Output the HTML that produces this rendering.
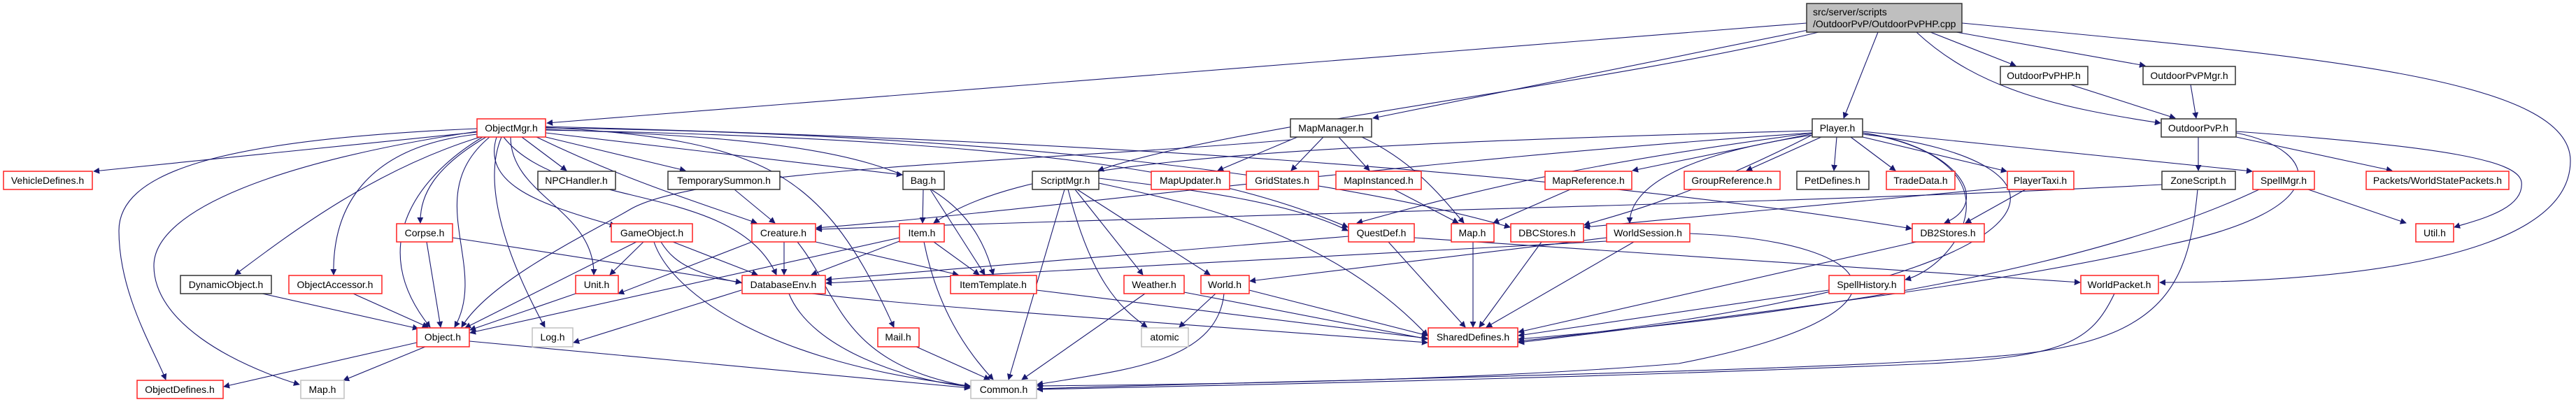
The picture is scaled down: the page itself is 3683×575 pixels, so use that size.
<!DOCTYPE html>
<html><head><meta charset="utf-8"><style>
html,body{margin:0;padding:0;background:#fff;}
svg{display:block;}
text{font-family:"Liberation Sans",sans-serif;font-size:14px;fill:#000;}
.r{fill:#fff;stroke:#ff2020;stroke-width:1.5;}
.b{fill:#fff;stroke:#333;stroke-width:1.5;}
.g{fill:#fff;stroke:#c0c0c0;stroke-width:1.5;}
.e{fill:none;stroke:#191970;stroke-width:1.1;marker-end:url(#a);}
</style></head><body>
<svg width="3683" height="575" viewBox="0 0 3683 575" xmlns="http://www.w3.org/2000/svg">
<defs><marker id="a" viewBox="0 0 10 10" refX="9" refY="5" markerWidth="9" markerHeight="9" markerUnits="userSpaceOnUse" orient="auto"><path d="M0,0 L10,5 L0,10 z" fill="#191970"/></marker></defs>
<g>
<!-- top node edges -->
<path class="e" d="M2583,33 L782,176"/>
<path class="e" d="M2590,42 L1963,169"/>
<path class="e" d="M2600,46 C2300,120 1750,180 1570,244"/>
<path class="e" d="M2685,46 L2636,169"/>
<path class="e" d="M2760,46 L2882,94"/>
<path class="e" d="M2797,46 L3067,94"/>
<path class="e" d="M2740,46 C2830,130 2950,155 3089,176"/>
<path class="e" d="M2805,33 C3300,80 3675,110 3675,230 C3675,380 3300,404 3088,404"/>
<!-- ObjectMgr -->
<path class="e" d="M682,189 L134,245"/>
<path class="e" d="M682,184 C300,200 170,250 170,330 C170,420 220,500 237,543"/>
<path class="e" d="M682,188 C400,230 220,300 220,380 C220,460 330,520 428,550"/>
<path class="e" d="M690,195 C540,240 420,330 336,393"/>
<path class="e" d="M682,192 C520,210 475,300 477,393"/>
<path class="e" d="M690,196 C600,250 520,350 615,468"/>
<path class="e" d="M695,196 C620,240 600,280 601,319"/>
<path class="e" d="M717,196 C690,260 720,360 779,468"/>
<path class="e" d="M746,196 L810,244"/>
<path class="e" d="M710,196 C690,260 760,290 880,323"/>
<path class="e" d="M730,196 C730,280 850,300 849,393"/>
<path class="e" d="M700,196 C600,280 700,380 650,468"/>
<path class="e" d="M780,196 L980,244"/>
<path class="e" d="M767,196 C900,260 1000,290 1082,319"/>
<path class="e" d="M780,190 L1290,250"/>
<path class="e" d="M780,185 C1200,200 1380,230 1420,393"/>
<path class="e" d="M780,182 C1100,200 1180,250 1278,468"/>
<path class="e" d="M720,196 C800,300 1050,260 1110,393"/>
<path class="e" d="M780,186 C1500,200 1750,250 1927,325"/>
<path class="e" d="M780,183 C1400,190 1900,250 2159,325"/>
<path class="e" d="M780,181 C1500,200 2200,240 2733,327"/>
<!-- others -->
<path class="e" d="M610,346 L630,468"/>
<path class="e" d="M647,340 L1060,404"/>
<path class="e" d="M375,420 L598,470"/>
<path class="e" d="M505,420 L612,468"/>
<path class="e" d="M596,490 L320,553"/>
<path class="e" d="M608,496 L491,544"/>
<path class="e" d="M671,488 L1387,555"/>
<path class="e" d="M823,420 L672,472"/>
<path class="e" d="M920,346 L872,393"/>
<path class="e" d="M910,346 L665,469"/>
<path class="e" d="M962,346 L1083,393"/>
<path class="e" d="M935,346 C960,420 1100,520 1387,552"/>
<path class="e" d="M945,346 C990,420 1100,420 2041,490"/>
<path class="e" d="M1060,415 L820,490"/>
<path class="e" d="M1128,420 C1160,500 1300,545 1387,553"/>
<path class="e" d="M1121,346 L1121,393"/>
<path class="e" d="M1075,346 L884,420"/>
<path class="e" d="M1166,346 L1370,393"/>
<path class="e" d="M1140,346 C1200,420 1200,520 1387,553"/>
<path class="e" d="M1050,271 L1108,319"/>
<path class="e" d="M1320,271 L1319,319"/>
<path class="e" d="M1330,271 L1408,393"/>
<path class="e" d="M1286,345 L1160,393"/>
<path class="e" d="M1335,346 L1400,393"/>
<path class="e" d="M1321,346 C1340,440 1380,500 1420,543"/>
<path class="e" d="M1286,340 L672,476"/>
<path class="e" d="M1522,271 L1442,543"/>
<path class="e" d="M1527,271 C1560,400 1600,440 1640,468"/>
<path class="e" d="M1537,271 L1634,393"/>
<path class="e" d="M1540,271 L1730,393"/>
<path class="e" d="M1571,262 C1700,290 1900,330 2041,480"/>
<path class="e" d="M1571,255 C1700,270 1850,290 1927,330"/>
<path class="e" d="M1637,420 L1461,543"/>
<path class="e" d="M1693,418 L2041,485"/>
<path class="e" d="M1738,420 L1686,468"/>
<path class="e" d="M1750,420 C1740,520 1600,530 1483,550"/>
<path class="e" d="M1786,415 L2041,480"/>
<path class="e" d="M1482,415 L2041,484"/>
<path class="e" d="M1310,496 L1415,543"/>
<path class="e" d="M1855,196 L1741,244"/>
<path class="e" d="M1892,196 L1846,244"/>
<path class="e" d="M1914,196 L1958,244"/>
<path class="e" d="M1947,196 C2020,230 2060,280 2093,319"/>
<path class="e" d="M1845,200 C1500,230 1000,240 900,300 C850,330 700,400 660,468"/>
<path class="e" d="M1993,271 L2085,319"/>
<path class="e" d="M2245,271 L2135,319"/>
<path class="e" d="M2106,346 L2106,468"/>
<path class="e" d="M1985,346 L2095,468"/>
<path class="e" d="M1928,338 L1181,400"/>
<path class="e" d="M2022,340 L2974,404"/>
<path class="e" d="M2204,346 L2115,468"/>
<path class="e" d="M2336,346 L2125,468"/>
<path class="e" d="M2297,345 L1181,405"/>
<path class="e" d="M2416,334 C2700,345 2760,450 2400,520 C2100,545 1700,550 1483,552"/>
<path class="e" d="M2297,340 L1787,402"/>
<path class="e" d="M2740,346 L2171,475"/>
<path class="e" d="M2615,415 L2171,480"/>
<path class="e" d="M2597,190 L2334,244"/>
<path class="e" d="M2604,196 L2497,244"/>
<path class="e" d="M2626,196 L2622,244"/>
<path class="e" d="M2646,196 L2710,244"/>
<path class="e" d="M2663,196 L2869,245"/>
<path class="e" d="M2663,188 L3220,245"/>
<path class="e" d="M2591,190 C2300,230 2150,260 1940,319"/>
<path class="e" d="M2600,192 C2400,220 2330,270 2330,319"/>
<path class="e" d="M2591,193 C2400,290 2300,310 2265,322"/>
<path class="e" d="M2663,190 C2800,210 2850,290 2780,319"/>
<path class="e" d="M2591,190 C2000,230 1500,300 1167,326"/>
<path class="e" d="M2591,187 C1700,210 1450,240 1335,319"/>
<path class="e" d="M2663,190 C2900,230 2800,380 2724,400"/>
<path class="e" d="M2663,192 C3000,230 3000,400 2171,488"/>
<path class="e" d="M2896,271 L2810,319"/>
<path class="e" d="M2870,268 L2265,325"/>
<path class="e" d="M3091,264 C2600,290 2000,300 1167,328"/>
<path class="e" d="M3142,271 C3130,400 3100,480 2900,505 C2700,530 1800,545 1483,556"/>
<path class="e" d="M3300,271 L3440,319"/>
<path class="e" d="M3230,271 C3000,380 2600,450 2171,485"/>
<path class="e" d="M2960,121 L3110,169"/>
<path class="e" d="M3132,121 L3140,169"/>
<path class="e" d="M3143,196 L3143,244"/>
<path class="e" d="M3197,196 L3420,244"/>
<path class="e" d="M3197,188 C3500,210 3600,230 3605,260 C3610,300 3540,315 3509,325"/>
<path class="e" d="M3197,190 C3320,215 3340,300 3100,350 C2900,400 2500,450 2171,490"/>
<path class="e" d="M3023,420 C2990,490 2950,510 2760,520 C2300,540 1800,550 1483,557"/>
</g>
<g>
<rect x="2583" y="5" width="222" height="41" fill="#bfbfbf" stroke="#333" stroke-width="1.5"/>
<text x="2592" y="22">src/server/scripts</text>
<text x="2592" y="39">/OutdoorPvP/OutdoorPvPHP.cpp</text>
<rect class="r" x="682" y="170" width="98" height="26"/><text x="731" y="188" text-anchor="middle">ObjectMgr.h</text>
<rect class="r" x="5" y="245" width="127" height="26"/><text x="68" y="263" text-anchor="middle">VehicleDefines.h</text>
<rect class="b" x="769" y="245" width="111" height="26"/><text x="824" y="263" text-anchor="middle">NPCHandler.h</text>
<rect class="r" x="567" y="320" width="80" height="26"/><text x="607" y="338" text-anchor="middle">Corpse.h</text>
<rect class="r" x="874" y="320" width="116" height="26"/><text x="932" y="338" text-anchor="middle">GameObject.h</text>
<rect class="b" x="258" y="394" width="130" height="26"/><text x="323" y="412" text-anchor="middle">DynamicObject.h</text>
<rect class="r" x="413" y="394" width="133" height="26"/><text x="479" y="412" text-anchor="middle">ObjectAccessor.h</text>
<rect class="r" x="823" y="394" width="61" height="26"/><text x="853" y="412" text-anchor="middle">Unit.h</text>
<rect class="r" x="596" y="469" width="75" height="27"/><text x="633" y="487" text-anchor="middle">Object.h</text>
<rect class="g" x="761" y="469" width="58" height="27"/><text x="790" y="487" text-anchor="middle">Log.h</text>
<rect class="r" x="196" y="544" width="123" height="26"/><text x="257" y="562" text-anchor="middle">ObjectDefines.h</text>
<rect class="g" x="430" y="544" width="62" height="26"/><text x="461" y="562" text-anchor="middle">Map.h</text>
<rect class="b" x="955" y="245" width="160" height="26"/><text x="1035" y="263" text-anchor="middle">TemporarySummon.h</text>
<rect class="b" x="1291" y="245" width="59" height="26"/><text x="1320" y="263" text-anchor="middle">Bag.h</text>
<rect class="b" x="1476" y="245" width="95" height="26"/><text x="1523" y="263" text-anchor="middle">ScriptMgr.h</text>
<rect class="r" x="1646" y="245" width="112" height="26"/><text x="1702" y="263" text-anchor="middle">MapUpdater.h</text>
<rect class="r" x="1782" y="245" width="103" height="26"/><text x="1833" y="263" text-anchor="middle">GridStates.h</text>
<rect class="r" x="1075" y="320" width="91" height="26"/><text x="1120" y="338" text-anchor="middle">Creature.h</text>
<rect class="r" x="1286" y="320" width="64" height="26"/><text x="1318" y="338" text-anchor="middle">Item.h</text>
<rect class="r" x="1061" y="394" width="119" height="26"/><text x="1120" y="412" text-anchor="middle">DatabaseEnv.h</text>
<rect class="r" x="1359" y="394" width="123" height="26"/><text x="1420" y="412" text-anchor="middle">ItemTemplate.h</text>
<rect class="r" x="1607" y="394" width="86" height="26"/><text x="1650" y="412" text-anchor="middle">Weather.h</text>
<rect class="r" x="1717" y="394" width="69" height="26"/><text x="1751" y="412" text-anchor="middle">World.h</text>
<rect class="r" x="1255" y="469" width="59" height="27"/><text x="1284" y="487" text-anchor="middle">Mail.h</text>
<rect class="g" x="1632" y="469" width="67" height="27"/><text x="1665" y="487" text-anchor="middle">atomic</text>
<rect class="g" x="1388" y="544" width="94" height="26"/><text x="1435" y="562" text-anchor="middle">Common.h</text>
<rect class="b" x="1845" y="170" width="116" height="26"/><text x="1903" y="188" text-anchor="middle">MapManager.h</text>
<rect class="b" x="2591" y="170" width="72" height="26"/><text x="2627" y="188" text-anchor="middle">Player.h</text>
<rect class="r" x="1910" y="245" width="122" height="26"/><text x="1971" y="263" text-anchor="middle">MapInstanced.h</text>
<rect class="r" x="2209" y="245" width="124" height="26"/><text x="2271" y="263" text-anchor="middle">MapReference.h</text>
<rect class="r" x="2408" y="245" width="137" height="26"/><text x="2476" y="263" text-anchor="middle">GroupReference.h</text>
<rect class="b" x="2569" y="245" width="103" height="26"/><text x="2620" y="263" text-anchor="middle">PetDefines.h</text>
<rect class="r" x="2697" y="245" width="98" height="26"/><text x="2746" y="263" text-anchor="middle">TradeData.h</text>
<rect class="r" x="1928" y="320" width="94" height="26"/><text x="1975" y="338" text-anchor="middle">QuestDef.h</text>
<rect class="r" x="2075" y="320" width="61" height="26"/><text x="2105" y="338" text-anchor="middle">Map.h</text>
<rect class="r" x="2160" y="320" width="104" height="26"/><text x="2212" y="338" text-anchor="middle">DBCStores.h</text>
<rect class="r" x="2297" y="320" width="119" height="26"/><text x="2356" y="338" text-anchor="middle">WorldSession.h</text>
<rect class="r" x="2734" y="320" width="103" height="26"/><text x="2785" y="338" text-anchor="middle">DB2Stores.h</text>
<rect class="r" x="2615" y="394" width="108" height="26"/><text x="2669" y="412" text-anchor="middle">SpellHistory.h</text>
<rect class="r" x="2042" y="469" width="128" height="27"/><text x="2106" y="487" text-anchor="middle">SharedDefines.h</text>
<rect class="b" x="2860" y="95" width="125" height="26"/><text x="2922" y="113" text-anchor="middle">OutdoorPvPHP.h</text>
<rect class="b" x="3064" y="95" width="132" height="26"/><text x="3130" y="113" text-anchor="middle">OutdoorPvPMgr.h</text>
<rect class="b" x="3090" y="170" width="107" height="26"/><text x="3143" y="188" text-anchor="middle">OutdoorPvP.h</text>
<rect class="r" x="2870" y="245" width="95" height="26"/><text x="2917" y="263" text-anchor="middle">PlayerTaxi.h</text>
<rect class="b" x="3091" y="245" width="105" height="26"/><text x="3143" y="263" text-anchor="middle">ZoneScript.h</text>
<rect class="r" x="3221" y="245" width="88" height="26"/><text x="3265" y="263" text-anchor="middle">SpellMgr.h</text>
<rect class="r" x="3383" y="245" width="204" height="26"/><text x="3485" y="263" text-anchor="middle">Packets/WorldStatePackets.h</text>
<rect class="r" x="3454" y="320" width="54" height="26"/><text x="3481" y="338" text-anchor="middle">Util.h</text>
<rect class="r" x="2975" y="394" width="111" height="26"/><text x="3030" y="412" text-anchor="middle">WorldPacket.h</text>
</g>
</svg>
</body></html>
